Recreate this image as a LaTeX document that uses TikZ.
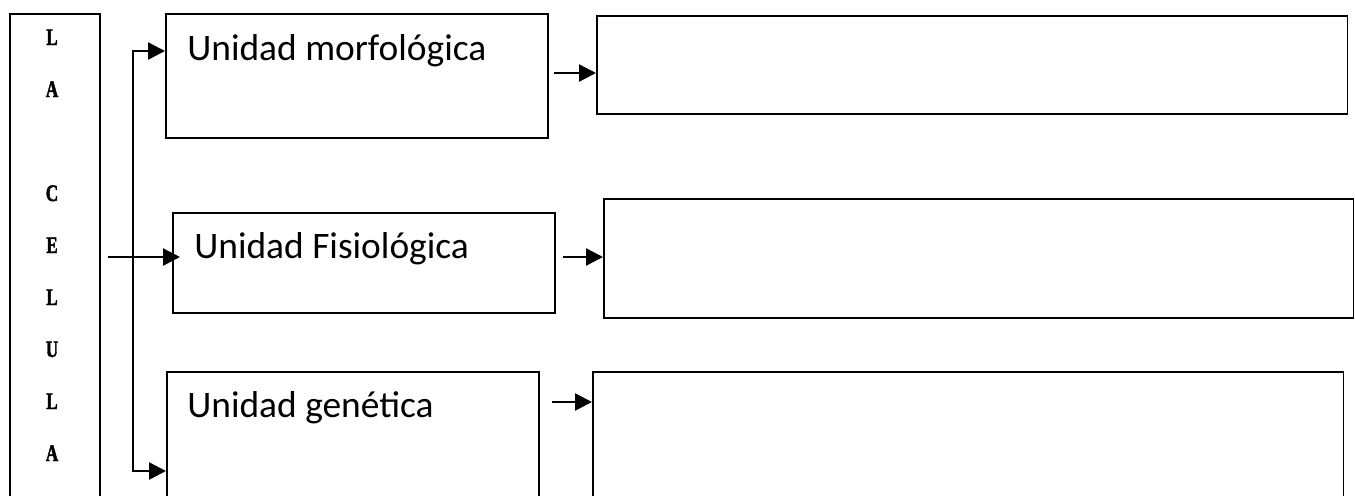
\documentclass[tikz,border=0pt]{standalone}
\usepackage{fontspec}
\setmainfont{Carlito}
\newfontfamily\celfont[FakeStretch=0.72, FakeBold=1.8]{Liberation Serif Bold}
\usetikzlibrary{arrows.meta}

\tikzset{
	cuadro/.style={draw, line width=0.9pt, inner sep=0pt, anchor=north west},
	etiqueta/.style={anchor=base west, inner sep=0pt, font=\fontsize{21.3}{26}\selectfont},
	letra/.style={anchor=base, inner sep=0pt, font=\celfont\fontsize{13.5}{15}\selectfont},
	flecha/.style={line width=1.4pt, -{Triangle[length=0.34cm, width=0.34cm]}},
}

\begin{document}
\begin{tikzpicture}[x=0.02cm, y=-0.02cm]
		\clip (0,0) rectangle (1355,495);
		
		% columna de la izquierda
		\node[cuadro, minimum width=1.8cm, minimum height=9.94cm] (cel) at (9,13) {};
		\foreach \l [count=\i] in {L,A,{},C,E,L,U,L,A}
			\node[letra] (l\i) at (52,{45+52*(\i-1)}) {\l};
		
		% unidades
		\node[cuadro, minimum width=7.64cm, minimum height=2.48cm] (morf) at (165,13) {};
		\node[cuadro, minimum width=7.64cm, minimum height=2.0cm] (fis) at (172,212) {};
		\node[cuadro, minimum width=7.44cm, minimum height=3.0cm] (gen) at (166,371) {};
		\node[etiqueta] (tmorf) at ([shift={(22,47)}]morf.north west) {Unidad morfológica};
		\node[etiqueta] (tfis) at ([shift={(22,46)}]fis.north west) {Unidad Fisiológica};
		\node[etiqueta] (tgen) at ([shift={(21,46)}]gen.north west) {Unidad genética};
		
		% cuadros para completar
		\node[cuadro, minimum width=15.02cm, minimum height=1.96cm] (r1) at (596,15) {};
		\node[cuadro, minimum width=15.0cm, minimum height=2.38cm] (r2) at (603,198) {};
		\node[cuadro, minimum width=15.02cm, minimum height=3.0cm] (r3) at (592,371) {};
		
		% flechas
		\coordinate (entrada) at (108,257);
		\draw[flecha] (entrada) -- ([shift={(8,45)}]fis.north west);
		\draw[flecha, {Triangle[length=0.34cm, width=0.34cm]}-{Triangle[length=0.34cm, width=0.34cm]}]
			([shift={(0,38)}]morf.north west) -- ++(-32,0) |- ([shift={(0,100)}]gen.north west);
		\draw[flecha] ([shift={(5,60)}]morf.north east) -- ([shift={(0,58)}]r1.north west);
		\draw[flecha] ([shift={(7,45)}]fis.north east) -- ([shift={(0,59)}]r2.north west);
		\draw[flecha] ([shift={(12,31)}]gen.north east) -- ([shift={(0,31)}]r3.north west);
\end{tikzpicture}
\end{document}
